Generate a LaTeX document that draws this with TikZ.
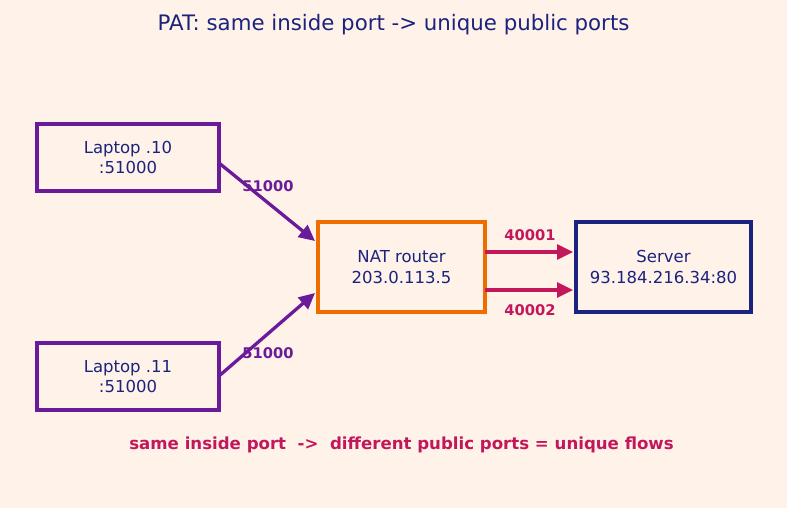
\documentclass[tikz,border=0pt]{standalone}
\usepackage{fontspec}
\setmainfont{DejaVu Sans}
\usetikzlibrary{arrows.meta}
\definecolor{bg}{HTML}{FFF2E8}
\definecolor{navy}{HTML}{1A237E}
\definecolor{purp}{HTML}{6A1B9A}
\definecolor{orng}{HTML}{EF6C00}
\definecolor{crim}{HTML}{C2185B}
\tikzset{
  box/.style={draw, line width=3.3pt, minimum width=182pt, minimum height=67pt, inner sep=0pt,
    align=center, text=navy, font=\fontsize{16.5}{20.5}\selectfont},
  conn/.style={line width=3.3pt, -{Triangle[length=16pt,width=15pt]}},
  plabel/.style={font=\fontsize{14.7}{17}\selectfont\bfseries, inner sep=0pt},
}
\begin{document}
\begin{tikzpicture}[x=1pt,y=-1pt]
\fill[bg] (0,0) rectangle (787,508);
\useasboundingbox (0,0) rectangle (787,508);
\node[text=navy, font=\fontsize{21.3}{25}\selectfont] (title) at (393.5,24.5) {PAT: same inside port -> unique public ports};
\node[box, draw=purp] (l10) at (128,157.5) {Laptop .10\\:51000};
\node[box, draw=purp] (l11) at (128,376.5) {Laptop .11\\:51000};
\node[box, draw=orng, minimum width=167pt, minimum height=90pt] (nat) at (401.5,267) {NAT router\\203.0.113.5};
\node[box, draw=navy, minimum width=175pt, minimum height=90pt] (srv) at (663.5,267) {Server\\93.184.216.34:80};
\coordinate (a1s) at (219,163);
\coordinate (a1e) at (315,241);
\coordinate (a2s) at (219,376);
\coordinate (a2e) at (315,293);
\coordinate (b1s) at (485,252);
\coordinate (b1e) at (573,252);
\coordinate (b2s) at (485,290);
\coordinate (b2e) at (573,290);
\draw[conn, purp] (a1s) -- (a1e);
\draw[conn, purp] (a2s) -- (a2e);
\draw[conn, crim] (b1s) -- (b1e);
\draw[conn, crim] (b2s) -- (b2e);
\node[plabel, text=purp] (lab1) at (268,186) {51000};
\node[plabel, text=purp] (lab2) at (268,353) {51000};
\node[plabel, text=crim] (lab3) at (530,235) {40001};
\node[plabel, text=crim] (lab4) at (530,310) {40002};
\node[text=crim, font=\fontsize{16.6}{20}\selectfont\bfseries] (foot) at (401.5,444.5) {same inside port \ -> \ different public ports = unique flows};
\end{tikzpicture}
\end{document}
